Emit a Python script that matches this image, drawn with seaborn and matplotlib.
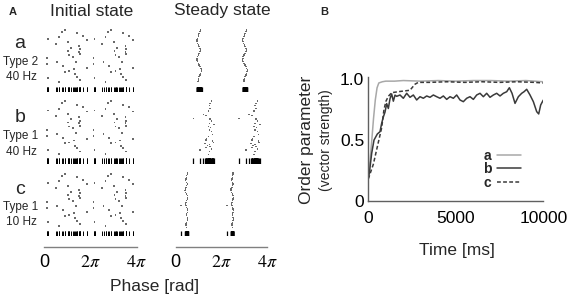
import numpy as np
import pandas as pd
import matplotlib
matplotlib.use("Agg")
import matplotlib.pyplot as plt
import seaborn as sns
from matplotlib.lines import Line2D

# ---------------- data ----------------
# Initial state: phase (units of pi) within one cycle and neuron index
init_phase = [0.752, 0.896, 1.401, 1.661, 0.175, 0.651, 0.507, 1.834, 1.011, 1.156,
              1.517, 1.545, 1.040, 1.084, 1.228, 1.545, 0.131, 0.131, 0.564, 0.795,
              1.372, 1.834, 1.084, 1.286, 0.896, 1.329, 1.401, 1.545, 0.175, 0.651,
              1.517]
init_neuron = [2.0, 0.8, 3.0, 4.4, 6.4, 5.4, 9.6, 7.0, 8.4, 11.6,
               10.4, 12.6, 13.6, 16.0, 17.0, 15.6, 18.0, 21.6, 20.4, 22.8,
               20.0, 23.6, 25.6, 24.4, 26.0, 27.6, 29.0, 31.0, 30.0, 32.4,
               14.0]

# Steady state a (Type 2, 40 Hz)
ss_a_phase = [1.09, 1.06, 1.03, 1.00, 0.99, 0.95, 0.92, 0.93, 0.96, 1.00,
              1.03, 1.06, 1.09, 1.06, 1.03, 0.99, 0.95, 0.93, 0.92, 0.95,
              0.99, 1.03, 1.06, 1.10, 1.13, 1.12, 1.09, 1.06, 1.03, 1.00,
              0.99, 0.97]
ss_a_neuron = list(range(1, 33))

# Steady state b (Type 1, 40 Hz)
ss_b_phase = [1.571, 1.498, 1.469, 1.498, 1.425, 1.207, 1.324, 0.770, 1.498, 1.571,
              1.469, 1.425, 1.527, 1.469, 1.571, 1.615, 1.425, 1.353, 1.324, 1.615,
              1.279, 1.469, 1.382, 1.498, 1.324, 1.571, 1.061, 1.469, 1.425, 1.673,
              1.644]
ss_b_neuron = [0.7, 2.1, 3.5, 5.1, 6.7, 8.7, 9.5, 11.1, 11.5, 12.7,
               14.1, 16.1, 16.7, 18.1, 19.1, 20.7, 22.1, 23.1, 24.1, 24.7,
               26.1, 26.7, 27.5, 28.1, 28.7, 29.5, 30.1, 31.1, 32.7, 14.8,
               25.6]

# Steady state c (Type 1, 10 Hz)
ss_c_phase = [0.508, 0.508, 0.479, 0.479, 0.450, 0.436, 0.479, 0.508, 0.479, 0.450,
              0.421, 0.406, 0.436, 0.479, 0.508, 0.523, 0.508, 0.479, 0.450, 0.436,
              0.450, 0.479, 0.508, 0.523, 0.508, 0.479, 0.479, 0.508, 0.523, 0.508,
              0.479, 0.450, 0.450, 0.479, 0.231]
ss_c_neuron = [0, 1, 2, 3, 4, 5, 6, 7, 8, 9,
               10, 11, 12, 13, 14, 15, 16, 17, 18, 19,
               20, 21, 22, 23, 24, 25, 26, 27, 28, 29,
               30, 31, 32, 33, 20]

row_letters = ["a", "b", "c"]
row_types = ["Type 2", "Type 1", "Type 1"]
row_freqs = ["40 Hz", "40 Hz", "10 Hz"]

# Panel B: order parameter vs time
t_a = [0, 100, 200, 300, 400, 500, 600, 800, 1000, 1500, 2000, 3000, 4000, 5000,
       6000, 7000, 8000, 9000, 10000]
v_a = [0.20, 0.33, 0.50, 0.68, 0.83, 0.93, 0.97, 0.98, 0.985, 0.985, 0.99, 0.985,
       0.99, 0.985, 0.99, 0.99, 0.985, 0.99, 0.98]

t_b = [0, 59, 192, 326, 516, 669, 764, 859, 954, 1050, 1145, 1240, 1335, 1431,
       1526, 1621, 1812, 2002, 2193, 2383, 2574, 2764, 2955, 3145, 3336, 3526,
       3717, 3907, 4098, 4288, 4479, 4669, 4860, 5050, 5241, 5431, 5622, 5812,
       6003, 6193, 6384, 6574, 6765, 6955, 7146, 7336, 7527, 7717, 7908, 8060,
       8213, 8384, 8575, 8765, 8899, 9051, 9241, 9432, 9622, 9737, 9851, 10003]
v_b = [0.186, 0.226, 0.39, 0.50, 0.55, 0.569, 0.638, 0.69, 0.73, 0.80,
       0.76, 0.84, 0.88, 0.82, 0.87, 0.86, 0.871, 0.844, 0.885, 0.852,
       0.871, 0.830, 0.857, 0.844, 0.863, 0.852, 0.871, 0.857, 0.844, 0.863,
       0.835, 0.857, 0.844, 0.871, 0.830, 0.816, 0.844, 0.857, 0.835, 0.871,
       0.885, 0.857, 0.885, 0.852, 0.871, 0.885, 0.863, 0.885, 0.898, 0.931,
       0.885, 0.802, 0.857, 0.885, 0.898, 0.918, 0.871, 0.816, 0.734, 0.715,
       0.789, 0.830]

t_c = [0, 95, 286, 571, 762, 895, 1010, 1145, 1335, 1810, 2380, 2670, 2860, 3500,
       4500, 5500, 6500, 7500, 8500, 9500, 10000]
v_c = [0.18, 0.22, 0.30, 0.48, 0.60, 0.75, 0.82, 0.86, 0.89, 0.90, 0.91, 0.96,
       0.975, 0.975, 0.98, 0.975, 0.98, 0.975, 0.98, 0.975, 0.97]

# ---------------- style ----------------
sns.set_theme(style="white")
plt.rcParams["font.family"] = ["Liberation Sans", "DejaVu Sans"]
plt.rcParams["mathtext.fontset"] = "stix"

W, H = 570, 302
fig = plt.figure(figsize=(W / 100, H / 100), dpi=100)


def px(l, t, w, h):
    return [l / W, 1 - (t + h) / H, w / W, h / H]


def ftext(x, y, s, **kw):
    fig.text(x / W, 1 - y / H, s, **kw)


dot_color = "#6a6a6a"
row_tops = [25, 96.5, 169]
row_h = 67
cols = [(44.3, 92.4), (175.7, 91.6)]

init_df = pd.DataFrame({"phase": init_phase, "neuron": init_neuron})
init_df2 = pd.concat([init_df, init_df.assign(phase=init_df.phase + 2)])

ss_sets = [(ss_a_phase, ss_a_neuron), (ss_b_phase, ss_b_neuron), (ss_c_phase, ss_c_neuron)]


def raster(ax, df, s=1.6, rug_lw=0.7):
    sns.scatterplot(data=df, x="phase", y="neuron", ax=ax, marker="s", s=s,
                    color=dot_color, edgecolor="none", linewidth=0)
    sns.rugplot(data=df, x="phase", ax=ax, height=0.075, color="black",
                linewidth=rug_lw, expand_margins=False)
    ax.set_xlim(0, 4)
    ax.set_ylim(38.2, -2)
    ax.set_axis_off()


for r in range(3):
    ax = fig.add_axes(px(cols[0][0], row_tops[r], cols[0][1], row_h))
    raster(ax, init_df2)
    ph, nn = ss_sets[r]
    sdf = pd.DataFrame({"phase": ph, "neuron": nn})
    sdf2 = pd.concat([sdf, sdf.assign(phase=sdf.phase + 2)])
    ax2 = fig.add_axes(px(cols[1][0], row_tops[r], cols[1][1], row_h))
    raster(ax2, sdf2, s=1.3, rug_lw=0.9)

# row labels
label_y = [(43, 62, 77), (118, 136, 152), (189, 207, 222)]
for r in range(3):
    ly, ty, fy = label_y[r]
    ftext(20, ly, row_letters[r], fontsize=14, ha="center", va="center")
    ftext(21, ty, row_types[r], fontsize=8.5, ha="center", va="center")
    ftext(21, fy, row_freqs[r], fontsize=8.5, ha="center", va="center")

# phase axes
for (l, w) in cols:
    axp = fig.add_axes(px(l, 237, w, 10))
    axp.set_xlim(0, 4)
    axp.set_ylim(0, 1)
    axp.patch.set_alpha(0)
    for s in ["top", "left", "right"]:
        axp.spines[s].set_visible(False)
    axp.spines["bottom"].set_color("#808080")
    axp.spines["bottom"].set_linewidth(1)
    axp.set_yticks([])
    axp.set_xticks([0, 1, 2, 3, 4], labels=["0", "", r"$2\pi$", "", r"$4\pi$"])
    axp.tick_params(axis="x", direction="in", length=4, width=1, color="#808080",
                    pad=5, labelsize=13, labelcolor="black")

ftext(91.5, 11, "Initial state", fontsize=12.5, ha="center", va="center")
ftext(222, 11, "Steady state", fontsize=12.5, ha="center", va="center")
ftext(155, 287, "Phase [rad]", fontsize=12.5, ha="center", va="center")
ftext(13, 12, "A", fontsize=8, fontweight="bold", ha="center", va="center")
ftext(324, 12, "B", fontsize=8, fontweight="bold", ha="center", va="center")

# ---------------- panel B ----------------
axb = fig.add_axes(px(368.3, 76.9, 175, 123.9))
sns.lineplot(x=t_a, y=v_a, ax=axb, color="#a8a8a8", linewidth=1.1, label="a")
sns.lineplot(x=t_b, y=v_b, ax=axb, color="#3a3a3a", linewidth=1.1, label="b")
sns.lineplot(x=t_c, y=v_c, ax=axb, color="#3a3a3a", linewidth=1.1, label="c",
             linestyle=(0, (2.5, 1.5)))
axb.set_xlim(0, 10000)
axb.set_ylim(0, 1.02)
axb.set_xticks([0, 5000, 10000], labels=["0", "5000", "10000"])
axb.set_yticks([0, 0.5, 1.0], labels=["0", "0.5", "1.0"])
for s in ["top", "right"]:
    axb.spines[s].set_visible(False)
for s in ["left", "bottom"]:
    axb.spines[s].set_color("#606060")
    axb.spines[s].set_linewidth(1)
axb.tick_params(axis="both", direction="in", length=2, width=1, color="#606060",
                labelsize=12.5, labelcolor="black")
axb.tick_params(axis="x", pad=7)
axb.tick_params(axis="y", pad=3)
axb.set_xlabel("")
axb.set_ylabel("")
handles = [Line2D([], [], color="#a8a8a8", lw=1.1),
           Line2D([], [], color="#3a3a3a", lw=1.1),
           Line2D([], [], color="#3a3a3a", lw=1.1, linestyle=(0, (2.5, 1.5)))]
leg = axb.legend(handles, ["a", "b", "c"], loc="upper left", frameon=False,
                 markerfirst=False, handlelength=1.7, handletextpad=0.4,
                 labelspacing=-0.05, borderpad=0, borderaxespad=0,
                 prop={"size": 10, "weight": "bold"},
                 bbox_to_anchor=(483 / W, 1 - 149 / H), bbox_transform=fig.transFigure)

ftext(456.7, 250, "Time [ms]", fontsize=12.5, ha="center", va="center")
ftext(306, 140, "Order parameter", fontsize=12.5, ha="center", va="center", rotation=90)
ftext(326, 140, "(vector strength)", fontsize=10, ha="center", va="center", rotation=90)

fig.savefig("out.png", dpi=100)
